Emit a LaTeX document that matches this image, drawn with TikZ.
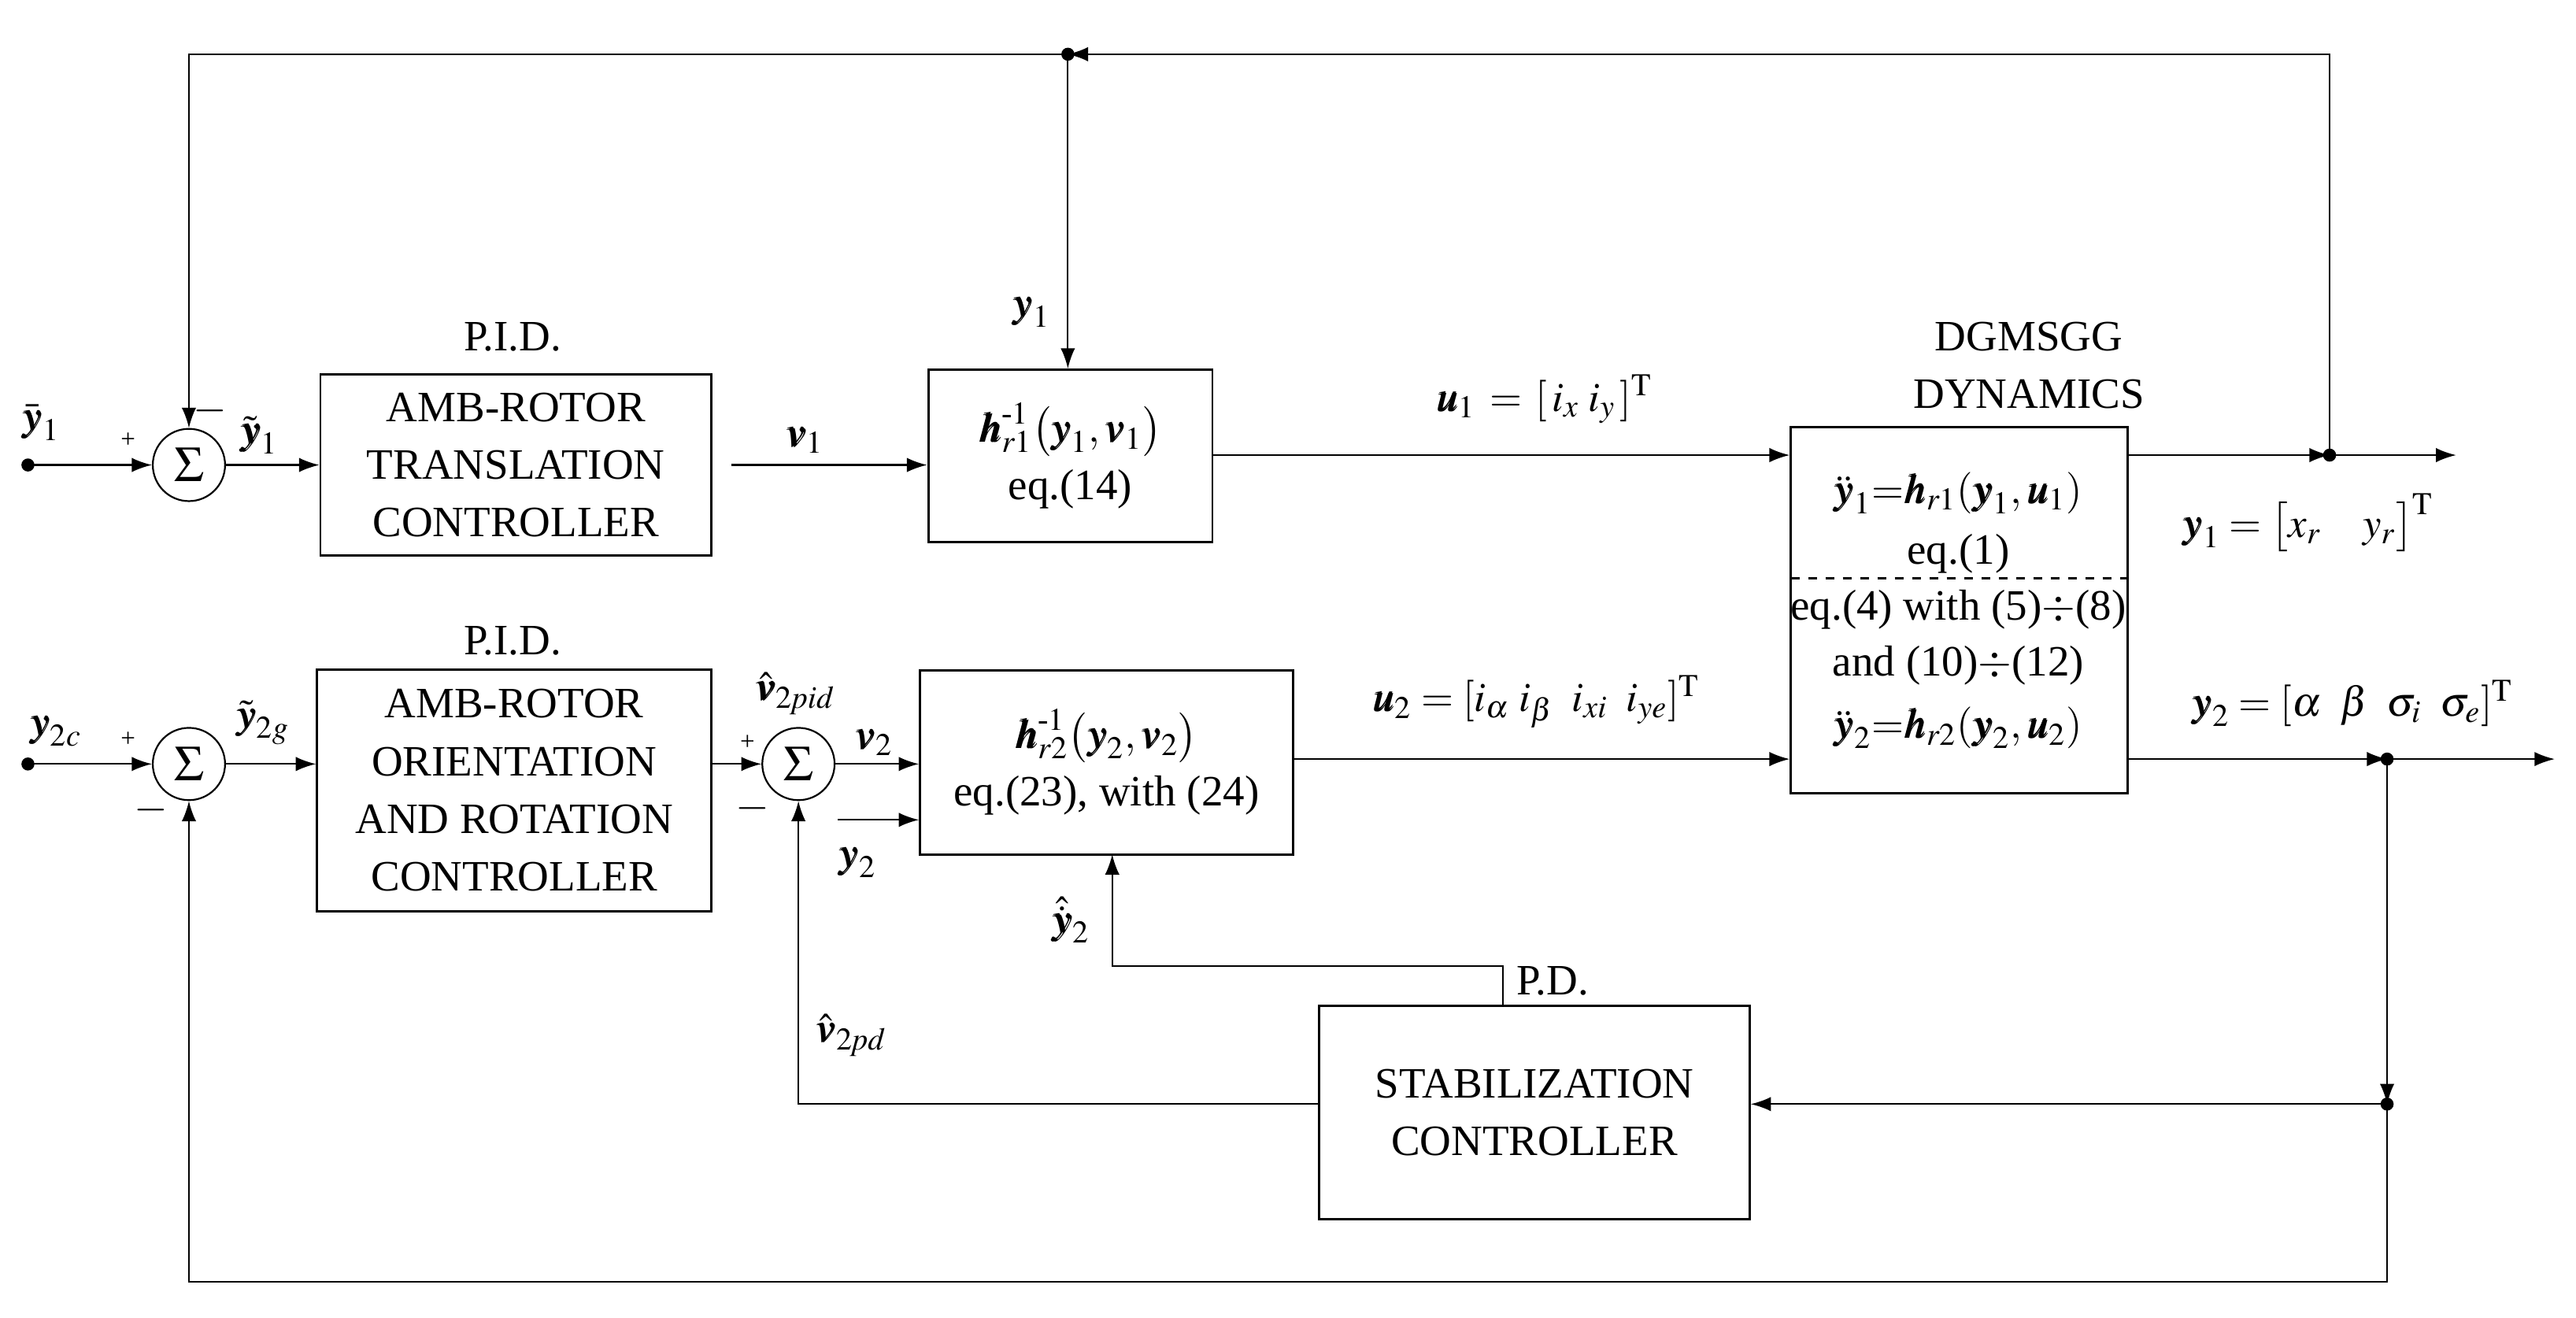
\documentclass[tikz,border=0pt]{standalone}
\usepackage{amsmath}
\usepackage{mathptmx}
\usepackage{bm}
\usepackage{fontspec}
\setmainfont{Liberation Serif}
\usetikzlibrary{arrows.meta}
\begin{document}
\begin{tikzpicture}[x=0.02cm,y=-0.02cm,>={Latex[length=7pt,width=5pt]},
  blk/.style={draw,thick,align=center,inner sep=0pt,font=\fontsize{15}{20}\selectfont},
  sm/.style={draw,semithick,circle,minimum size=0.88cm,inner sep=0pt,font=\LARGE},
  lbl/.style={font=\fontsize{15}{18}\selectfont},
  dot/.style={circle,fill,inner sep=1.6pt}]
\useasboundingbox (0,0) rectangle (1568,802);
% blocks
\node[blk,minimum width=4.76cm,minimum height=2.2cm] (c1) at (314,283) {AMB-ROTOR\\TRANSLATION\\CONTROLLER};
\node[blk,minimum width=4.8cm,minimum height=2.94cm] (c2) at (313,481) {AMB-ROTOR\\ORIENTATION\\AND ROTATION\\CONTROLLER};
\node[blk,minimum width=3.46cm,minimum height=2.1cm] (h1) at (651.5,277.5) {\Large$\bm{h}^{\text{-}1}_{r1}\bigl(\bm{y}_1,\bm{v}_1\bigr)$\\eq.(14)};
\node[blk,minimum width=4.54cm,minimum height=2.24cm] (h2) at (673.5,464) {\Large$\bm{h}^{\text{-}1}_{r2}\bigl(\bm{y}_2,\bm{v}_2\bigr)$\\eq.(23), with (24)};
\node[blk,minimum width=4.1cm,minimum height=4.46cm] (dg) at (1192.5,371.5) {};
\node[blk,minimum width=5.24cm,minimum height=2.6cm] (st) at (934,677) {STABILIZATION\\CONTROLLER};
\draw[thick,dashed] (1090,352) -- (1295,352);
\node[lbl] at (1192,300) {\Large$\ddot{\bm{y}}_1{=}\bm{h}_{r1}(\bm{y}_1,\bm{u}_1)$};
\node[lbl] at (1192,337) {eq.(1)};
\node[lbl] at (1192,371) {eq.(4) with (5)$\div$(8)};
\node[lbl] at (1192,405) {and (10)$\div$(12)};
\node[lbl] at (1192,443) {\Large$\ddot{\bm{y}}_2{=}\bm{h}_{r2}(\bm{y}_2,\bm{u}_2)$};
% sums
\node[sm] (s1) at (115,283) {$\Sigma$};
\node[sm] (s2) at (115,465) {$\Sigma$};
\node[sm] (s3) at (486,465) {$\Sigma$};
% points
\coordinate (in1) at (17,283);
\coordinate (in2) at (17,465);
\coordinate (tp) at (650,33);
\coordinate (o1) at (1418,277);
\coordinate (o1e) at (1495,277);
\coordinate (o2) at (1453,462);
\coordinate (o2e) at (1555,462);
\coordinate (sb) at (1453,672);
\node[dot] at (in1) {};
\node[dot] at (in2) {};
\node[dot] at (tp) {};
\node[dot] at (o1) {};
\node[dot] at (o2) {};
\node[dot] at (sb) {};
% titles
\node[lbl] at (312,205) {P.I.D.};
\node[lbl] at (312,390) {P.I.D.};
\node[lbl] at (1235,205) {DGMSGG};
\node[lbl] at (1235,240) {DYNAMICS};
\node[lbl] at (945,597) {P.D.};
% connectors
\draw[semithick,->] (in1) -- (s1);
\draw[semithick,->] (s1) -- (c1);
\draw[semithick,->] (445,283) -- (h1.west |- 0,283);
\draw[semithick,->] (h1.east |- 0,277) -- (dg.west |- 0,277);
\draw[semithick,->] (dg.east |- 0,277) -- (o1);
\draw[semithick,->] (o1) -- (o1e);
\draw[semithick,->] (o1) -- (o1 |- tp) -- (tp);
\draw[semithick,->] (tp) -- (115,33) -- (s1);
\draw[semithick,->] (tp) -- (tp |- h1.north);
\draw[semithick,->] (in2) -- (s2);
\draw[semithick,->] (s2) -- (c2.west |- s2);
\draw[semithick,->] (c2.east |- s3) -- (s3);
\draw[semithick,->] (s3) -- (h2.west |- s3);
\draw[semithick,->] (510,499) -- (h2.west |- 0,499);
\draw[semithick,->] (h2.east |- 0,462) -- (dg.west |- 0,462);
\draw[semithick,->] (dg.east |- 0,462) -- (o2);
\draw[semithick,->] (o2) -- (o2e);
\draw[semithick,->] (o2) -- (sb);
\draw[semithick,->] (sb) -- (st.east |- sb);
\draw[semithick,->] (st.west |- sb) -- (486,672) -- (s3);
\draw[semithick,->] (sb) -- (1453,780) -- (115,780) -- (s2);
\draw[semithick,->] (st.north -| 915,0) -- (915,588) -- (677,588) -- (677,520);
% labels
\node[lbl] at (25,257) {\Large$\bar{\bm{y}}_1$};
\node[lbl,font=\small] at (78,268) {+};
\node[lbl] at (128,250) {$-$};
\node[lbl] at (158,265) {\Large$\tilde{\bm{y}}_1$};
\node[lbl] at (490,268) {\Large$\bm{v}_1$};
\node[lbl] at (628,190) {\Large$\bm{y}_1$};
\node[lbl] at (940,243) {\Large$\bm{u}_1\,=\,[\,i_x\;i_y\,]^{\mathrm{T}}$};
\node[lbl] at (1405,318) {\Large$\bm{y}_1=\bigl[x_r\quad y_r\bigr]^{\mathrm{T}}$};
\node[lbl] at (34,445) {\Large$\bm{y}_{2c}$};
\node[lbl,font=\small] at (78,450) {+};
\node[lbl] at (92,493) {$-$};
\node[lbl] at (160,440) {\Large$\tilde{\bm{y}}_{2g}$};
\node[lbl] at (484,422) {\Large$\hat{\bm{v}}_{2\mathit{pid}}$};
\node[lbl,font=\small] at (455,452) {+};
\node[lbl] at (458,492) {$-$};
\node[lbl] at (532,452) {\Large$\bm{v}_2$};
\node[lbl] at (522,525) {\Large$\bm{y}_2$};
\node[lbl] at (652,560) {\Large$\hat{\dot{\bm{y}}}_2$};
\node[lbl] at (518,630) {\Large$\hat{\bm{v}}_{2\mathit{pd}}$};
\node[lbl] at (935,427) {\Large$\bm{u}_2=[i_\alpha\;i_\beta\;\;i_{xi}\;\;i_{ye}]^{\mathrm{T}}$};
\node[lbl] at (1432,428) {\Large$\bm{y}_2=[\alpha\;\;\beta\;\;\sigma_i\;\;\sigma_e]^{\mathrm{T}}$};
\end{tikzpicture}
\end{document}
